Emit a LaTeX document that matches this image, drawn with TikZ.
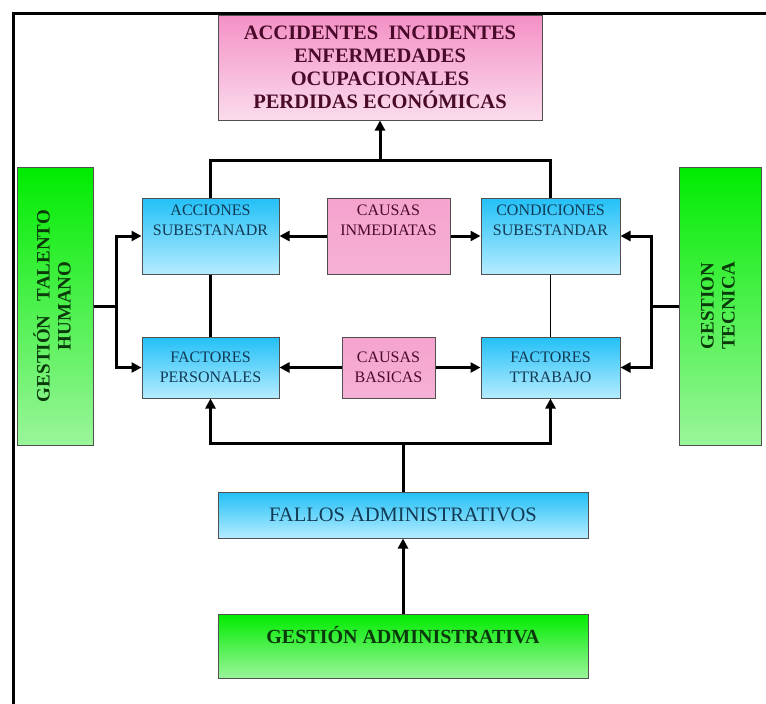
\documentclass[tikz,border=0pt]{standalone}
\usepackage{fontspec}
\setmainfont{Liberation Serif}
\usetikzlibrary{arrows.meta}

\definecolor{pinkA}{HTML}{F490C6}
\definecolor{pinkB}{HTML}{FBDCEC}
\definecolor{pinkC}{HTML}{F5A3CE}
\definecolor{blueA}{HTML}{22C0F7}
\definecolor{blueB}{HTML}{B5ECFF}
\definecolor{greenA}{HTML}{00EC00}
\definecolor{greenB}{HTML}{9AF59A}
\definecolor{edge}{HTML}{505050}
\definecolor{txtpink}{HTML}{4A0A2A}
\definecolor{txtblue}{HTML}{123A55}
\definecolor{txtgreen}{HTML}{0A3A0A}

\tikzset{
  box/.style={draw=edge, line width=1pt, rectangle, inner sep=2pt, align=center},
  pinkbox/.style={box, top color=pinkA, bottom color=pinkB, text=txtpink},
  causebox/.style={box, top color=pinkC, bottom color=pinkC!85!white, text=txtpink},
  bluebox/.style={box, top color=blueA, bottom color=blueB, text=txtblue},
  greenbox/.style={box, top color=greenA, bottom color=greenB, text=txtgreen},
  small/.style={font=\fontsize{16}{20}\selectfont},
  big/.style={font=\fontsize{20.5}{22}\selectfont},
  conn/.style={line width=3pt, draw=black},
  tip/.style={-{Triangle[length=10pt,width=10pt]}}
}

\begin{document}
\begin{tikzpicture}[x=1pt,y=-1pt]
\useasboundingbox (0,0) rectangle (766,704);

% frame
\draw[line width=3pt] (13,704) -- (13,13) -- (766,13);

% result
\node[pinkbox, minimum width=324, minimum height=105,
  font=\bfseries\fontsize{20.5}{23}\selectfont] (result) at (380,67.5)
  {ACCIDENTES\ \ INCIDENTES\\ENFERMEDADES\\OCUPACIONALES\\PERDIDAS ECONÓMICAS};

% immediate causes row
\node[bluebox, minimum width=137, minimum height=76,
  label={[small, text=txtblue, align=center, anchor=north, yshift=-4pt]north:ACCIONES\\SUBESTANADR}] (acc) at (210.5,236) {};
\node[causebox, minimum width=123, minimum height=76,
  label={[small, text=txtpink, align=center, anchor=north, yshift=-4pt]north:CAUSAS\\INMEDIATAS}] (cinm) at (388.5,236) {};
\node[bluebox, minimum width=139, minimum height=76,
  label={[small, text=txtblue, align=center, anchor=north, yshift=-4pt]north:CONDICIONES\\SUBESTANDAR}] (cond) at (550.5,236) {};

% basic causes row
\node[bluebox, small, minimum width=137, minimum height=61] (fper) at (210.5,367.5) {FACTORES\\PERSONALES};
\node[causebox, small, minimum width=93, minimum height=61] (cbas) at (388.5,367.5) {CAUSAS\\BASICAS};
\node[bluebox, small, minimum width=139, minimum height=61] (ftra) at (550.5,367.5) {FACTORES\\TTRABAJO};

% side management
\node[greenbox, minimum width=76, minimum height=278, font=\bfseries\fontsize{19}{21}\selectfont] (ghum) at (55,306)
  {\rotatebox{90}{\begin{tabular}{@{}c@{}}GESTIÓN\ \ \ TALENTO\\HUMANO\end{tabular}}};
\node[greenbox, minimum width=82, minimum height=278, font=\bfseries\fontsize{19}{21}\selectfont] (gtec) at (720,306)
  {\rotatebox{90}{\begin{tabular}{@{}c@{}}GESTION\\TECNICA\end{tabular}}};

% bottom
\node[bluebox, big, minimum width=370, minimum height=46] (fallos) at (403,515) {FALLOS ADMINISTRATIVOS};
\node[greenbox, minimum width=370, minimum height=64,
  label={[font=\bfseries\fontsize{20}{22}\selectfont, text=txtgreen, anchor=north, yshift=-9pt]north:GESTIÓN ADMINISTRATIVA}] (gadm) at (403,646) {};

% connectors
\coordinate (top) at (380,160);
\draw[conn] (acc.north) |- (top) -| (cond.north);
\draw[conn, tip] (top) -- (result.south);

\draw[conn, tip] (cinm) -- (acc);
\draw[conn, tip] (cinm) -- (cond);
\draw[conn, tip] (cbas) -- (fper);
\draw[conn, tip] (cbas) -- (ftra);

\draw[line width=2.5pt] (acc) -- (fper);
\draw[line width=0.8pt] (cond) -- (ftra);

\coordinate (lj) at (116,306);
\draw[conn] (ghum.east) -- (lj);
\draw[conn, tip] (lj) |- (acc.west);
\draw[conn, tip] (lj) |- (fper.west);

\coordinate (rj) at (651,306);
\draw[conn] (gtec.west) -- (rj);
\draw[conn, tip] (rj) |- (cond.east);
\draw[conn, tip] (rj) |- (ftra.east);

\coordinate (bj) at (403,443);
\draw[conn] (fallos.north) -- (bj);
\draw[conn, tip] (bj) -| (fper.south);
\draw[conn, tip] (bj) -| (ftra.south);

\draw[conn, tip] (gadm) -- (fallos);
\end{tikzpicture}
\end{document}
